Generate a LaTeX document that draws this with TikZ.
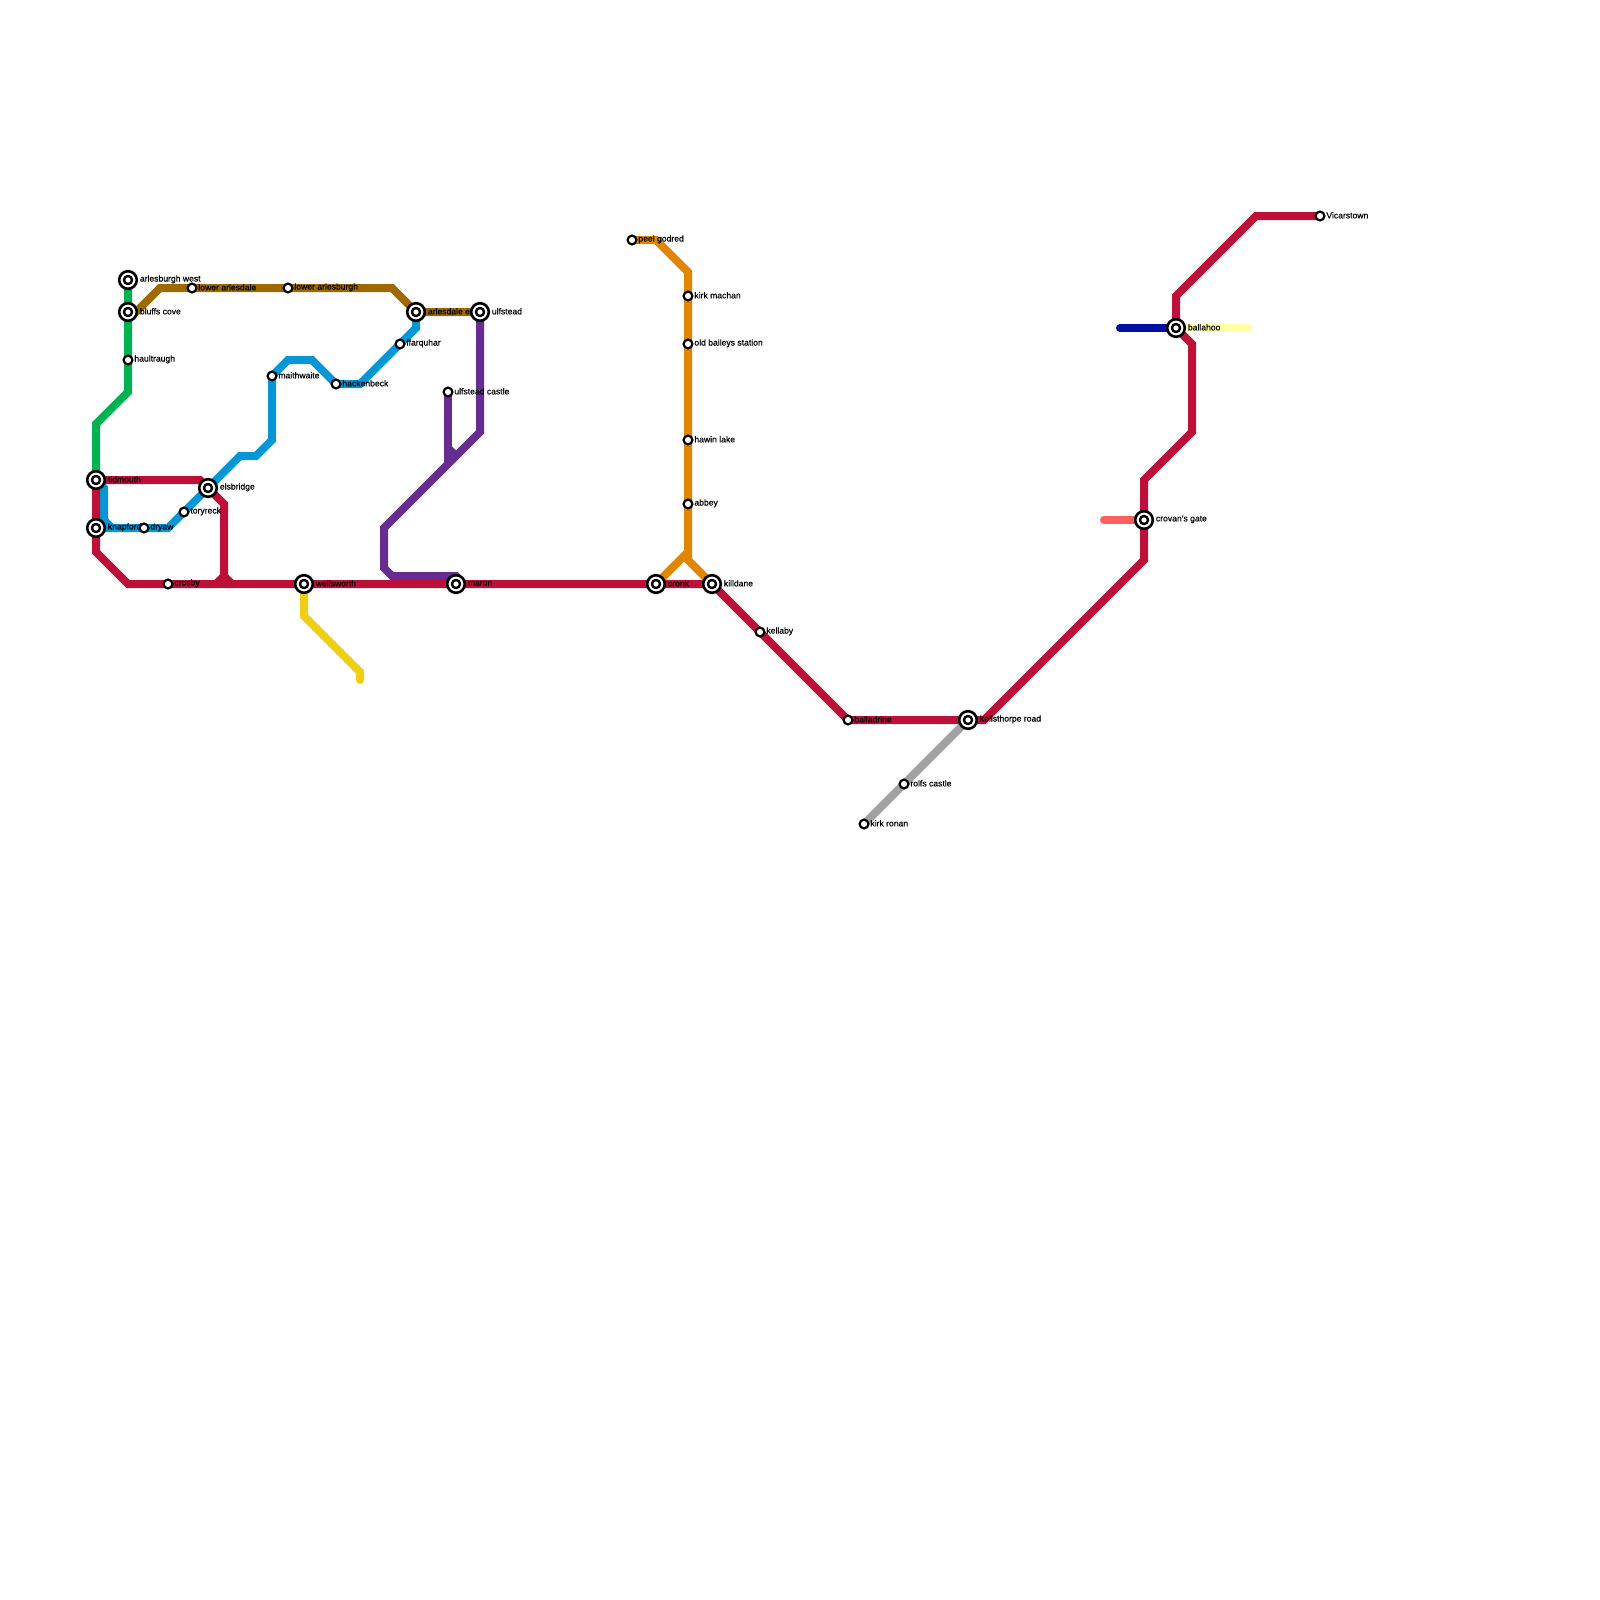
\documentclass[tikz,border=0pt]{standalone}
\usepackage{fontspec}
\setmainfont[FakeBold=0.5]{Liberation Sans}
\definecolor{lred}{HTML}{BD1038}
\definecolor{lgreen}{HTML}{00B251}
\definecolor{lblue}{HTML}{0896D7}
\definecolor{lbrown}{HTML}{9E6A00}
\definecolor{lpurple}{HTML}{662C90}
\definecolor{lorange}{HTML}{E08600}
\definecolor{lyellow}{HTML}{F0CE15}
\definecolor{lgray}{HTML}{A1A2A3}
\definecolor{lnavy}{HTML}{0010A1}
\definecolor{lpale}{HTML}{FFFFA6}
\definecolor{lcoral}{HTML}{FF5E5E}
\tikzset{
 metro/.style={line width=4pt,line join=miter,miter limit=2},
 endround/.style={metro,line cap=round},
 stn/.style={circle,draw=black,fill=white,line width=1.1pt,minimum size=4.4pt,inner sep=0pt,outer sep=0pt},
 hub/.style={circle,draw=black,fill=white,line width=1.3pt,minimum size=8.8pt,inner sep=0pt,outer sep=0pt},
 hubcore/.style={circle,draw=black,fill=white,line width=1.2pt,minimum size=4pt,inner sep=0pt,outer sep=0pt},
 lab/.style={anchor=west,inner sep=0pt,font=\fontsize{4.3}{5}\selectfont,text=black},
}
\newcommand{\stnat}[5]{% name, x, y, label, offset
 \node[stn] (#1) at (#2,#3) {};
 \node[lab] (#1l) at (#2+#5,#3-0.7) {#4};}
\newcommand{\hubat}[5]{%
 \node[hub] (#1) at (#2,#3) {};
 \node[hubcore] (#1c) at (#2,#3) {};
 \node[lab] (#1l) at (#2+#5,#3-0.7) {#4};}
\begin{document}
\begin{tikzpicture}[x=0.5pt,y=-0.5pt]
\useasboundingbox (0,0) rectangle (1600,1600);
% coordinates of stations (lines are drawn first)
\foreach \n/\x/\y in {awest/128/280,bcove/128/312,hault/128/360,tid/96/480,knap/96/528,dry/144/528,tory/184/512,els/208/488,cros/168/584,wells/304/584,larl/192/288,larb/288/288,maith/272/376,hack/336/384,aend/416/312,ulf/480/312,ffar/400/344,ucas/448/392,mar/456/584,peel/632/240,kirkm/688/296,oldb/688/344,hawin/688/440,abb/688/504,cronk/656/584,kill/712/584,kell/760/632,ball/848/720,kth/968/720,rolf/904/784,kron/864/824,crov/1144/520,bhoo/1176/328,vic/1320/216}
 {\coordinate (p\n) at (\x,\y);}
% lines
\draw[metro,lgreen] (pawest) -- (128,392) -- (96,424) -- (ptid);
\draw[metro,lbrown] (pbcove) -- (136,312) -- (160,288) -- (392,288) -- (paend) -- (pulf);
\draw[metro,lblue] (ptid) -- (104,488) -- (104,520) -- (112,528);
\draw[metro,lblue] (pknap) -- (168,528) -- (240,456) -- (256,456) -- (272,440) -- (pmaith) -- (288,360) -- (312,360) -- (phack) -- (360,384) -- (416,328) -- (paend);
\draw[metro,lpurple] (pulf) -- (480,432) -- (384,528) -- (384,568) -- (392,576) -- (456,576) -- (462,582);
\draw[metro,lpurple] (pucas) -- (448,464);
\draw[metro,lpurple] (448,448) -- (456,456);
\draw[metro,lred] (ptid) -- (200,480) -- (224,504) -- (224,576) -- (216,584);
\draw[metro,lred] (224,576) -- (232,584);
\draw[metro,lred] (ptid) -- (96,552) -- (128,584) -- (pkill) -- (pball) -- (984,720) -- (1144,560) -- (1144,480) -- (1192,432) -- (1192,344) -- (1176,328) -- (1176,296) -- (1256,216) -- (pvic);
\draw[metro,lyellow,line cap=round] (pwells) -- (304,616) -- (360,672) -- (360,680);
\draw[metro,lorange] (ppeel) -- (656,240) -- (688,272) -- (688,560) -- (pkill);
\draw[metro,lorange] (pcronk) -- (688,552);
\draw[metro,lgray] (pkth) -- (pkron);
\draw[endround,lnavy] (1120,328) -- (pbhoo);
\draw[endround,lpale] (pbhoo) -- (1248,328);
\draw[endround,lcoral] (1104,520) -- (pcrov);
% stations
\hubat{awest}{128}{280}{arlesburgh west}{11.5}
\hubat{bcove}{128}{312}{bluffs cove}{11.5}
\stnat{hault}{128}{360}{haultraugh}{6}
\hubat{tid}{96}{480}{tidmouth}{11.5}
\hubat{knap}{96}{528}{knapford}{11.5}
\stnat{dry}{144}{528}{dryaw}{6}
\stnat{tory}{184}{512}{toryreck}{6}
\hubat{els}{208}{488}{elsbridge}{11.5}
\stnat{cros}{168}{584}{crosby}{6}
\hubat{wells}{304}{584}{wellsworth}{11.5}
\stnat{larl}{192}{288}{lower arlesdale}{6}
\stnat{larb}{288}{288}{lower arlesburgh}{6}
\stnat{maith}{272}{376}{maithwaite}{6}
\stnat{hack}{336}{384}{hackenbeck}{6}
\hubat{aend}{416}{312}{arlesdale end}{11.5}
\hubat{ulf}{480}{312}{ulfstead}{11.5}
\stnat{ffar}{400}{344}{ffarquhar}{6}
\stnat{ucas}{448}{392}{ulfstead castle}{6}
\hubat{mar}{456}{584}{maron}{11.5}
\stnat{peel}{632}{240}{peel godred}{6}
\stnat{kirkm}{688}{296}{kirk machan}{6}
\stnat{oldb}{688}{344}{old baileys station}{6}
\stnat{hawin}{688}{440}{hawin lake}{6}
\stnat{abb}{688}{504}{abbey}{6}
\hubat{cronk}{656}{584}{cronk}{11.5}
\hubat{kill}{712}{584}{killdane}{11.5}
\stnat{kell}{760}{632}{kellaby}{6}
\stnat{ball}{848}{720}{balladrine}{6}
\hubat{kth}{968}{720}{kellsthorpe road}{11.5}
\stnat{rolf}{904}{784}{rolfs castle}{6}
\stnat{kron}{864}{824}{kirk ronan}{6}
\hubat{crov}{1144}{520}{crovan's gate}{11.5}
\hubat{bhoo}{1176}{328}{ballahoo}{11.5}
\stnat{vic}{1320}{216}{Vicarstown}{6}
\end{tikzpicture}
\end{document}
